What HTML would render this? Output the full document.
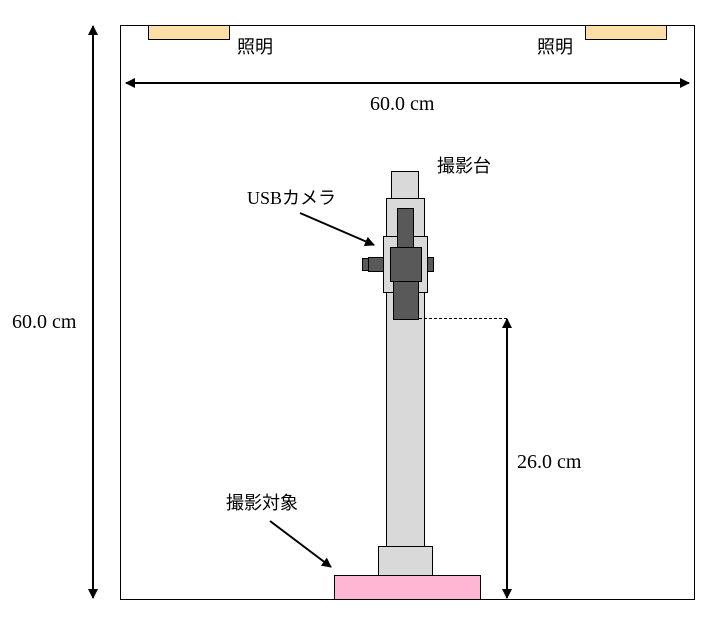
<!DOCTYPE html>
<html><head><meta charset="utf-8"><style>
html,body{margin:0;padding:0;background:#fff;}
svg text{font-family:"Liberation Serif","Noto Sans CJK JP",serif;font-size:20px;fill:#000;}
</style></head><body>
<svg width="725" height="614" viewBox="0 0 725 614" xmlns="http://www.w3.org/2000/svg">
<defs>
<marker id="a" viewBox="0 0 10 10" refX="9" refY="5" markerWidth="10" markerHeight="10" markerUnits="userSpaceOnUse" orient="auto-start-reverse"><path d="M0,0 L10,5 L0,10 z" fill="#000"/></marker>
</defs>
<rect x="120.5" y="25.5" width="574" height="574" fill="#fff" stroke="#000" stroke-width="1"/>
<rect x="148.5" y="25.5" width="81" height="14" fill="#fddea7" stroke="#000"/>
<rect x="585.5" y="25.5" width="81" height="14" fill="#fddea7" stroke="#000"/>
<text x="237" y="53" style="font-size:18px">照明</text>
<text x="537" y="53" style="font-size:18px">照明</text>
<line x1="126" y1="83" x2="689" y2="83" stroke="#000" stroke-width="2" marker-start="url(#a)" marker-end="url(#a)"/>
<text x="370" y="110">60.0 cm</text>
<line x1="93" y1="26" x2="93" y2="598" stroke="#000" stroke-width="2" marker-start="url(#a)" marker-end="url(#a)"/>
<text x="12" y="328">60.0 cm</text>
<rect x="391.5" y="171.5" width="27" height="27" fill="#d9d9d9" stroke="#000"/>
<rect x="386.5" y="198.5" width="38" height="348" fill="#d9d9d9" stroke="#000"/>
<rect x="378.5" y="546.5" width="54" height="29" fill="#d9d9d9" stroke="#000"/>
<rect x="334.5" y="575.5" width="146" height="24" fill="#ffb6d2" stroke="#000"/>
<rect x="383.5" y="236.5" width="44" height="56" fill="#d9d9d9" stroke="#000"/>
<rect x="397.5" y="208.5" width="16" height="40" fill="#595959" stroke="#000"/>
<rect x="393.5" y="281.5" width="25" height="38" fill="#595959" stroke="#000"/>
<rect x="390.5" y="247.5" width="31" height="34" fill="#595959" stroke="#000"/>
<rect x="362.5" y="258.5" width="7" height="12" fill="#595959" stroke="#000"/>
<rect x="368.5" y="257.5" width="15" height="14" fill="#595959" stroke="#000"/>
<rect x="427.5" y="257.5" width="6" height="14" fill="#595959" stroke="#000"/>
<line x1="419" y1="318.5" x2="507" y2="318.5" stroke="#000" stroke-dasharray="3,2"/>
<line x1="507" y1="319" x2="507" y2="598" stroke="#000" stroke-width="2" marker-start="url(#a)" marker-end="url(#a)"/>
<text x="517" y="468">26.0 cm</text>
<text x="437" y="172" style="font-size:18px">撮影台</text>
<text x="247" y="204" style="font-size:18px">USBカメラ</text>
<line x1="300" y1="213" x2="374" y2="245" stroke="#000" stroke-width="2" marker-end="url(#a)"/>
<text x="226" y="509" style="font-size:18px">撮影対象</text>
<line x1="270" y1="521" x2="331" y2="567" stroke="#000" stroke-width="2" marker-end="url(#a)"/>
</svg>
</body></html>
